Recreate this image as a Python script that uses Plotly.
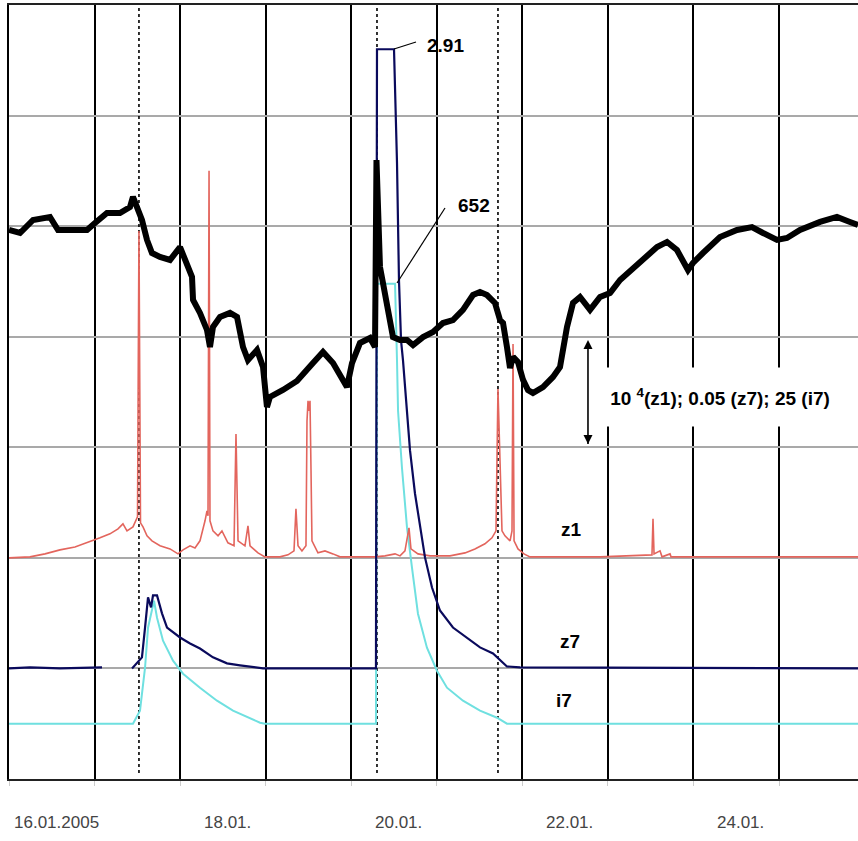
import plotly.graph_objects as go

# ---- time axis: days since 16.01.2005 00:00 ----
day_ticks = [0, 1, 2, 3, 4, 5, 6, 7, 8, 9]
label_days = [0, 2, 4, 6, 8]
label_text = ["16.01.2005", "18.01.", "20.01.", "22.01.", "24.01."]
event_days = [1.519, 4.301, 5.715]

# ---- neutron monitor (black), in grid units ----
nm_t = [0, 0.129, 0.281, 0.479, 0.573, 0.748, 0.912, 1.005, 1.145, 1.297, 1.414, 1.449, 1.496,
        1.554, 1.613, 1.671, 1.765, 1.882, 1.999, 2.057, 2.139, 2.151, 2.232, 2.314, 2.349, 2.384,
        2.466, 2.583, 2.665, 2.735, 2.793, 2.899, 2.969, 3.015, 3.050, 3.202, 3.366, 3.553, 3.670,
        3.787, 3.950, 4.009, 4.102, 4.219, 4.278, 4.295, 4.313, 4.336, 4.371, 4.418, 4.453, 4.488,
        4.570, 4.652, 4.722, 4.839, 4.956, 5.072, 5.189, 5.306, 5.423, 5.505, 5.587, 5.680, 5.739,
        5.774, 5.820, 5.856, 5.891, 5.949, 6.008, 6.066, 6.124, 6.241, 6.358, 6.440, 6.522, 6.592,
        6.674, 6.791, 6.908, 7.025, 7.142, 7.375, 7.574, 7.691, 7.807, 7.936, 7.994, 8.111, 8.310,
        8.509, 8.684, 8.813, 8.976, 9.093, 9.245, 9.479, 9.677, 9.829, 9.923]
nm_v = [4.965, 4.938, 5.056, 5.083, 4.965, 4.965, 4.965, 5.028, 5.119, 5.119, 5.173, 5.264, 5.173,
        5.056, 4.875, 4.757, 4.721, 4.694, 4.811, 4.694, 4.540, 4.332, 4.215, 4.061, 3.907, 4.088,
        4.178, 4.215, 4.178, 3.907, 3.789, 3.880, 3.726, 3.364, 3.455, 3.518, 3.600, 3.762, 3.862,
        3.762, 3.545, 3.762, 3.943, 3.988, 3.907, 5.598, 4.965, 4.631, 4.486, 4.269, 4.088, 3.997,
        3.970, 3.970, 3.925, 3.997, 4.043, 4.124, 4.151, 4.242, 4.377, 4.404, 4.377, 4.305, 4.151,
        4.124, 3.907, 3.717, 3.817, 3.771, 3.609, 3.518, 3.491, 3.545, 3.636, 3.726, 4.088, 4.305,
        4.359, 4.242, 4.359, 4.395, 4.513, 4.667, 4.811, 4.857, 4.784, 4.603, 4.667, 4.757, 4.902,
        4.965, 4.992, 4.938, 4.875, 4.893, 4.965, 5.038, 5.083, 5.038, 5.010]

# ---- z1 (red), scale 1e4 per grid ----
z1_t = [0, 0.245, 0.421, 0.596, 0.771, 0.947, 1.064, 1.180, 1.274, 1.332, 1.379, 1.449, 1.484, 1.502,
        1.519, 1.537, 1.566, 1.613, 1.671, 1.765, 1.882, 1.975, 2.034, 2.116, 2.174, 2.232, 2.291,
        2.314, 2.326, 2.338, 2.349, 2.384, 2.443, 2.489, 2.559, 2.630, 2.653, 2.677, 2.758, 2.793,
        2.817, 2.910, 2.992, 3.167, 3.261, 3.331, 3.354, 3.378, 3.424, 3.471, 3.483, 3.495, 3.506,
        3.518, 3.530, 3.541, 3.611, 3.693, 3.787, 3.869, 4.102, 4.278, 4.395, 4.512, 4.570, 4.628,
        4.675, 4.698, 4.780, 4.921, 5.154, 5.330, 5.446, 5.563, 5.645, 5.692, 5.715, 5.739, 5.762,
        5.797, 5.856, 5.879, 5.891, 5.903, 5.949, 6.019, 6.089, 6.908, 7.515, 7.527, 7.539, 7.609,
        7.633, 7.726, 7.738, 9.923]
z1_v = [0, 90, 360, 720, 990, 1450, 1810, 2170, 2620, 3070, 2440, 2800, 3350, 3710,
        29570, 3170, 2800, 1990, 1540, 1090, 810, 360, 720, 1090, 900, 1540, 3350,
        4250, 3800, 35000, 3350, 2440, 1990, 2440, 1360, 1090, 11210, 1540, 1090, 2890,
        1090, 450, 90, 90, 270, 630, 4430, 1090, 630, 1090, 12390, 14200, 13290,
        14200, 7870, 1540, 450, 630, 360, 90, 90, 90, 180, 360, 180, 630,
        2710, 810, 360, 180, 180, 450, 810, 1270, 1810, 2440, 15280, 9680, 2440,
        1990, 1540, 2440, 19350, 1540, 810, 360, 90, 90, 270, 3530, 360, 630,
        90, 360, 90, 90]

# ---- z7 (navy), scale 0.05 per grid (display clipped) ----
z7_t = [0, 0.245, 0.596, 1.087, 1.2, 1.438, 1.554, 1.590, 1.625, 1.660, 1.683, 1.730, 1.788, 1.847,
        1.999, 2.116, 2.232, 2.384, 2.548, 2.700, 2.969, 4.289, 4.301, 4.500, 4.535, 4.558, 4.582,
        4.605, 4.652, 4.687, 4.745, 4.804, 4.862, 4.944, 5.037, 5.189, 5.388, 5.505, 5.657, 5.739,
        5.820, 5.972, 9.923]
z7_v = [0, 0.0005, 0, 0.0005, None, 0, 0.0050, 0.0185, 0.0321, 0.0276, 0.0330, 0.0330, 0.0249, 0.0185,
        0.0140, 0.0113, 0.0090, 0.0050, 0.0023, 0.0014, 0, 0, 0.28, 0.28, 0.2284, 0.1755, 0.1483,
        0.1393, 0.1167, 0.0986, 0.0791, 0.0638, 0.0502, 0.0366, 0.0262, 0.0185, 0.0127, 0.0095, 0.0068, 0.0036,
        0.0009, 0.0005, 0]

# ---- i7 (cyan), scale 25 per grid (display clipped) ----
i7_t = [0, 1.449, 1.531, 1.590, 1.625, 1.671, 1.695, 1.730, 1.800, 1.917, 2.034, 2.232, 2.431, 2.618,
        2.934, 2.992, 4.289, 4.301, 4.512, 4.535, 4.547, 4.593, 4.652, 4.710, 4.780, 4.885, 5.002,
        5.119, 5.306, 5.505, 5.704, 5.820, 9.923]
i7_v = [0, 0, 2.94, 12.66, 21.71, 26.23, 27.81, 23.97, 18.77, 14.25, 11.31, 8.14, 5.20, 2.94,
        0.23, 0, 0, 99.5, 99.5, 82.07, 70.77, 57.88, 44.32, 35.27, 24.87, 17.18, 11.98,
        8.14, 5.20, 2.94, 1.36, 0, 0]

Z1_BASE, Z1_SCALE = 2.0, 1e4
Z7_BASE, Z7_SCALE = 1.0, 0.05
I7_BASE, I7_SCALE = 0.5, 25.0

def shift(vals, base, scale):
    return [None if v is None else base + v / scale for v in vals]

fig = go.Figure()
fig.add_trace(go.Scatter(x=i7_t, y=shift(i7_v, I7_BASE, I7_SCALE), mode="lines",
                         line=dict(color="#6fe0e0", width=2), name="i7"))
fig.add_trace(go.Scatter(x=z1_t, y=shift(z1_v, Z1_BASE, Z1_SCALE), mode="lines",
                         line=dict(color="#e3655d", width=1.6), name="z1"))
fig.add_trace(go.Scatter(x=z7_t, y=shift(z7_v, Z7_BASE, Z7_SCALE), mode="lines",
                         line=dict(color="#0a0a5c", width=2.2), name="z7"))
fig.add_trace(go.Scatter(x=nm_t, y=nm_v, mode="lines",
                         line=dict(color="#000000", width=6), name="NM"))

# scale arrow (one grid step)
ARROW_X = 6.767
fig.add_trace(go.Scatter(x=[ARROW_X, ARROW_X], y=[3.03, 3.97], mode="lines+markers",
                         line=dict(color="black", width=1.6),
                         marker=dict(symbol=["arrow-down", "arrow-up"], size=9, color="black"),
                         hoverinfo="skip"))

X_MAX = 9.923
for d in event_days:
    fig.add_shape(type="line", xref="x", yref="y", x0=d, x1=d, y0=0.055, y1=7,
                  line=dict(color="black", width=1.6, dash="dot"), layer="between")

# leader lines
fig.add_shape(type="line", xref="x", yref="y", x0=4.500, y0=6.602, x1=4.757, y1=6.665,
              line=dict(color="black", width=1.2))
fig.add_shape(type="line", xref="x", yref="y", x0=4.535, y0=4.486, x1=5.096, y1=5.164,
              line=dict(color="black", width=1.2))

bold = dict(family="Liberation Sans Narrow, Arial Narrow, Liberation Sans, Arial",
            size=19, color="black", weight="bold")
ann = [
    dict(x=5.107, y=6.638, text="2.91"),
    dict(x=5.435, y=5.191, text="652"),
    dict(x=6.569, y=2.252, text="z1"),
    dict(x=6.557, y=1.248, text="z7"),
    dict(x=6.487, y=0.714, text="i7"),
]
for a in ann:
    fig.add_annotation(x=a["x"], y=a["y"], text=a["text"], showarrow=False,
                       xref="x", yref="y", font=bold)

fig.add_annotation(x=8.31, y=3.455, xref="x", yref="y",
                   text="10 <sup>4</sup>(z1); 0.05 (z7); 25 (i7)", showarrow=False,
                   font=bold, bgcolor="white", width=244, height=58, borderpad=0)

for d, t in zip(label_days, label_text):
    fig.add_annotation(x=d + 0.55, y=-0.0556, xref="x", yref="paper", text=t,
                       showarrow=False, yanchor="middle",
                       font=dict(family="Liberation Sans, Arial", size=17, color="#444444"))

fig.update_layout(
    width=858, height=841,
    margin=dict(l=9, r=0, t=5, b=62),
    paper_bgcolor="white", plot_bgcolor="white",
    showlegend=False,
    xaxis=dict(range=[0, X_MAX], tickvals=day_ticks, showgrid=True, gridcolor="black",
               gridwidth=1.6, zeroline=False, showline=True, linecolor="#222", linewidth=2.2,
               mirror=True, showticklabels=False, ticks="outside", ticklen=5,
               tickcolor="#cccccc"),
    yaxis=dict(range=[0, 7], dtick=1, tick0=0, showgrid=True, gridcolor="#a9a9a9",
               gridwidth=2, zeroline=False, showline=True, linecolor="black", linewidth=2,
               showticklabels=False, ticks=""),
)

fig.write_html("out.html")
